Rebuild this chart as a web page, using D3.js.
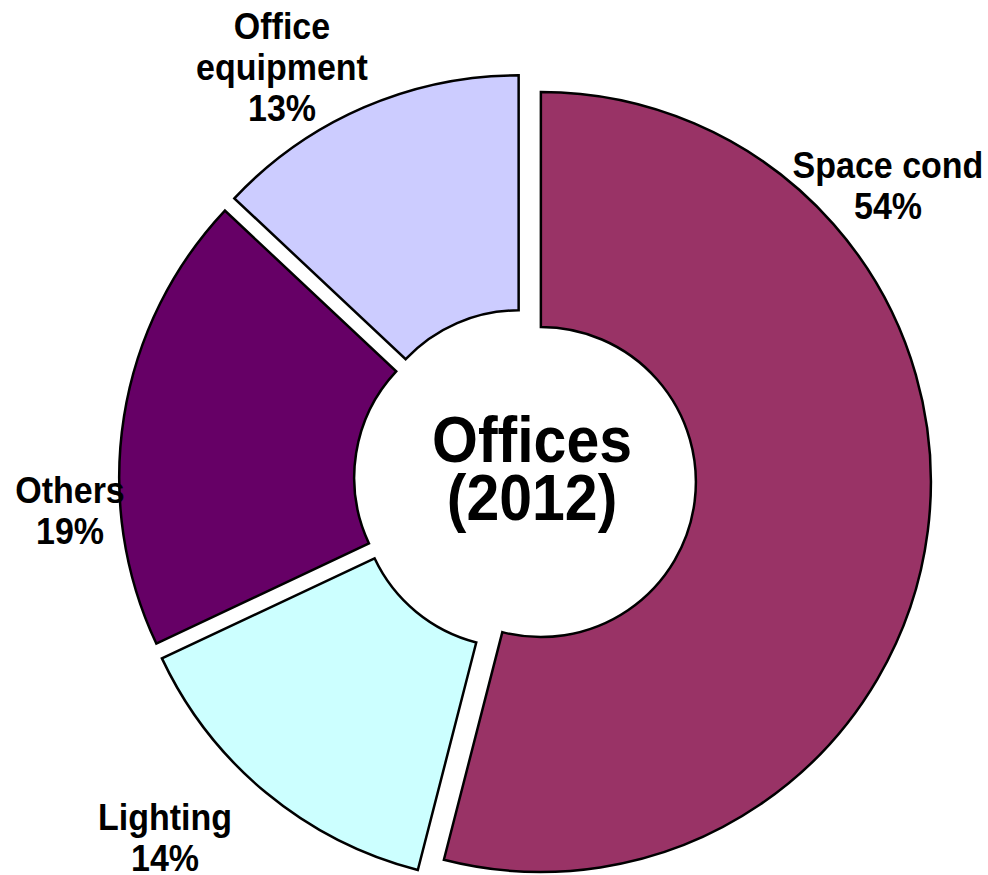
<!DOCTYPE html>
<html lang="en">
  <head>
    <meta charset="utf-8">
    <title>Offices (2012)</title>
    <style type="text/css">
      body {
        margin: 0px;
        padding: 0px;
        background: white;
      }
      svg {
        display: block;
        font-family: "Liberation Sans", Arial, sans-serif;
        font-weight: bold;
      }
    </style>
    <script src="https://cdn.jsdelivr.net/npm/d3@7"></script>
  </head>
<body>
<div id="root"></div>

<script>
  // data, clockwise from 12 o'clock
  var categories = ["Space cond", "Lighting", "Others", "Office equipment"];
  var shares = [54, 14, 19, 13];
  var colours = ["#993366", "#CCFFFF", "#660066", "#CCCCFF"];

  // label lines and where Excel put them
  var labelLines = [["Space cond", "54%"], ["Lighting", "14%"], ["Others", "19%"], ["Office", "equipment", "13%"]];
  var labelAt = [[888, 178], [165, 830], [70, 503], [282, 39]];

  var width = 988, height = 875;
  var cx = 525, cy = 480;
  var outerR = 390, innerR = 155, explode = 16;

  var svg = d3.select("#root")
    .append("svg")
    .attr("width", width)
    .attr("height", height);

  var pie = d3.pie().sort(null).value(function(d) { return d; });
  var arc = d3.arc().innerRadius(innerR).outerRadius(outerR);
  var slices = pie(shares);

  var g = svg.append("g")
    .attr("transform", "translate(" + cx + "," + cy + ")");

  g.selectAll("path")
    .data(slices)
    .enter().append("path")
      .attr("d", arc)
      .attr("fill", function(d, i) { return colours[i]; })
      .attr("stroke", "black")
      .attr("stroke-width", 2.5)
      .attr("stroke-linejoin", "miter")
      .attr("transform", function(d) {
        var a = (d.startAngle + d.endAngle) / 2;
        return "translate(" + (Math.sin(a) * explode) + "," + (-Math.cos(a) * explode) + ")";
      });

  // outside labels
  labelLines.forEach(function(lines, i) {
    var t = svg.append("text")
      .attr("text-anchor", "middle")
      .style("font-size", "34px")
      .attr("transform", "translate(" + labelAt[i][0] + "," + labelAt[i][1] + ") scale(1,1.08)");
    lines.forEach(function(s, k) {
      t.append("tspan")
        .attr("x", 0)
        .attr("y", k * 38)
        .text(s);
    });
  });

  // centre title
  var title = svg.append("text")
    .attr("text-anchor", "middle")
    .style("font-size", "59px")
    .attr("transform", "translate(" + 532 + "," + 462 + ") scale(1,1.1)");
  title.append("tspan").attr("x", 0).attr("y", 0).text("Offices");
  title.append("tspan").attr("x", 0).attr("y", 53).text("(2012)");
</script>

</body>
</html>
